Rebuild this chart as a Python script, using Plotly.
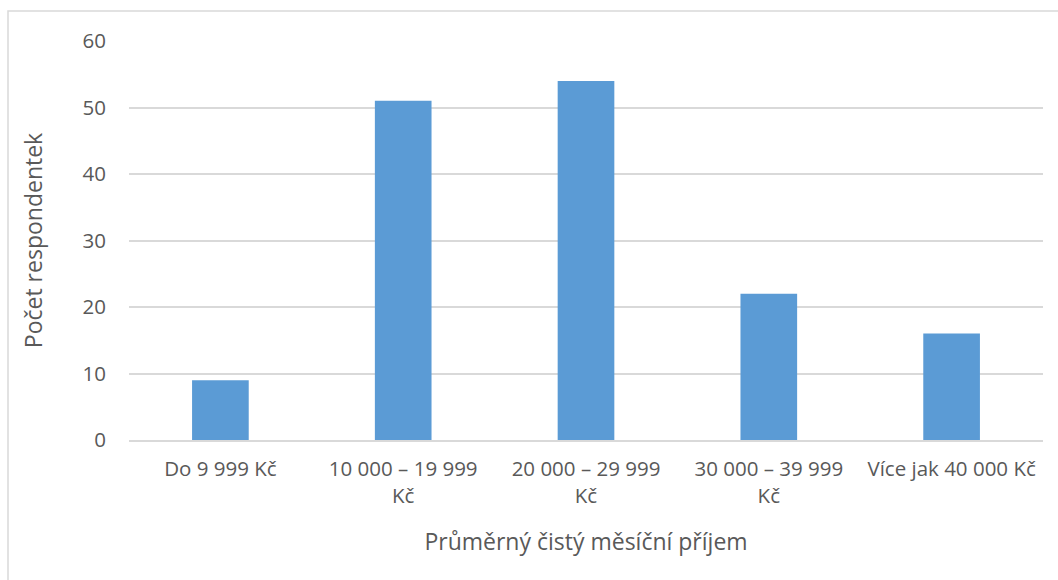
import plotly.graph_objects as go

# Průměrný čistý měsíční příjem – počty respondentek
kategorie = [
    "Do 9 999 Kč",
    "10 000 – 19 999<br>Kč",
    "20 000 – 29 999<br>Kč",
    "30 000 – 39 999<br>Kč",
    "Více jak 40 000 Kč",
]
pocty = [9, 51, 54, 22, 16]
y_ticks = [0, 10, 20, 30, 40, 50, 60]

W, H = 1058, 580
L, R, T, B = 129, 15, 41, 140
pw, ph = W - L - R, H - T - B

font_family = "Open Sans, Noto Sans, sans-serif"
text_color = "#595959"

fig = go.Figure(
    go.Bar(
        x=kategorie,
        y=pocty,
        marker=dict(color="#5B9BD5", line=dict(width=0)),
        hoverinfo="x+y",
    )
)

fig.update_layout(
    width=W,
    height=H,
    margin=dict(l=L, r=R, t=T, b=B),
    plot_bgcolor="white",
    paper_bgcolor="white",
    bargap=0.69,
    showlegend=False,
    font=dict(family=font_family, color=text_color),
    xaxis=dict(
        showgrid=False,
        showline=True,
        linecolor="#d9d9d9",
        linewidth=1.5,
        ticks="",
        tickfont=dict(size=20.5, color=text_color, lineposition="none"),
        ticklabelstandoff=10,
        title=dict(
            text="Průměrný čistý měsíční příjem",
            font=dict(size=23, color=text_color),
            standoff=26,
        ),
    ),
    yaxis=dict(
        range=[0, 60],
        tickvals=y_ticks,
        showgrid=True,
        gridcolor="#d9d9d9",
        gridwidth=1.5,
        zeroline=False,
        ticks="",
        tickfont=dict(size=20.5, color=text_color),
        ticklabelstandoff=22,
        title=dict(
            text="Počet respondentek",
            font=dict(size=23, color=text_color),
            standoff=33,
        ),
    ),
    shapes=[
        dict(
            type="rect",
            xref="paper",
            yref="paper",
            x0=(8 - L) / pw,
            x1=(W + 5 - L) / pw,
            y0=-(H + 5 - (T + ph)) / ph,
            y1=1 + (T - 11) / ph,
            line=dict(color="#d9d9d9", width=1.5),
            fillcolor="rgba(0,0,0,0)",
            layer="below",
        )
    ],
)

fig.write_html("out.html")
